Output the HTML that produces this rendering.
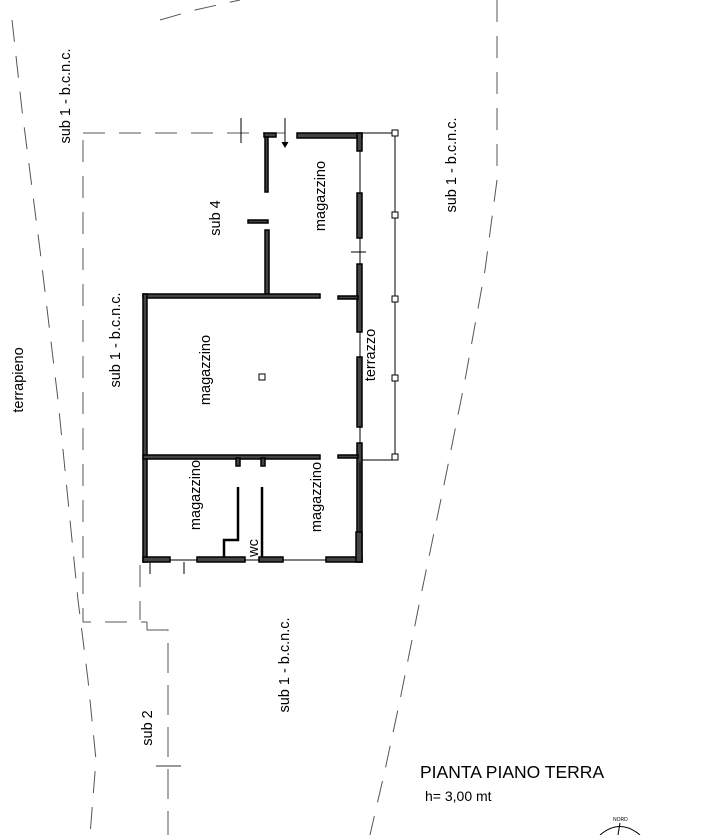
<!DOCTYPE html>
<html><head><style>
body{margin:0;background:#fff;}
svg text{font-family:"Liberation Sans",sans-serif;fill:#000;}
</style></head><body>
<svg width="727" height="835" viewBox="0 0 727 835" xmlns="http://www.w3.org/2000/svg">
<g fill="none" stroke="#555" stroke-width="1" stroke-dasharray="22,14">
<polyline points="12,20 22,110 40,250 58,400 70,520 78,600 88,680 96,760 90,835"/>
<polyline points="160,20 195,10 240,0"/>
<polyline points="497,0 497,180 485,270 465,380 445,480 420,600 400,700 385,770 370,835"/>
<polyline points="83,140 83,622 147,622"/>
<line x1="83" y1="133" x2="395" y2="133"/>
<polyline points="147,622 147,630 168,630 168,835" stroke-dasharray="30,12"/>
<line x1="140" y1="565" x2="140" y2="620"/>
</g>
<line x1="156" y1="766" x2="181" y2="766" stroke="#333"/>
<g stroke="#000" stroke-width="1">
<line x1="241" y1="118" x2="241" y2="143"/>
<line x1="285" y1="118" x2="285" y2="146"/><path d="M282,142 L285,147 L288,142" fill="#000"/>
</g>
<g fill="#444" stroke="#000" stroke-width="1.5">
<rect x="264" y="133" width="12" height="4"/>
<rect x="297" y="133" width="65" height="5"/>
<rect x="357" y="133" width="5" height="18"/>
<rect x="357" y="193" width="5" height="45"/>
<rect x="357" y="264" width="5" height="68"/>
<rect x="357" y="357" width="5" height="70"/>
<rect x="357" y="443" width="5" height="119"/>
<rect x="265" y="137" width="3" height="55"/>
<rect x="265" y="230" width="4" height="66"/>
<rect x="248" y="220" width="20" height="3"/>
<rect x="143" y="294" width="177" height="4"/>
<rect x="338" y="296" width="20" height="3"/>
<rect x="143" y="294" width="4" height="268"/>
<rect x="143" y="455" width="177" height="4"/>
<rect x="338" y="455" width="20" height="3"/>
<rect x="143" y="557" width="27" height="5"/>
<rect x="197" y="557" width="48" height="5"/>
<rect x="259" y="557" width="24" height="5"/>
<rect x="326" y="557" width="36" height="5"/>
<rect x="356" y="532" width="6" height="30"/>
<rect x="236" y="458" width="4" height="8"/>
<rect x="261" y="458" width="4" height="8"/>
<polyline points="238,487 238,540 224,540 224,557" fill="none" stroke-width="2.5"/>
<line x1="262" y1="487" x2="262" y2="557" stroke-width="2.5"/>
</g>
<g stroke="#000" stroke-width="1" fill="none">
<line x1="362" y1="133" x2="395" y2="133"/>
<line x1="362" y1="460" x2="395" y2="460"/>
<line x1="395" y1="133" x2="395" y2="460"/>
<line x1="360" y1="151" x2="360" y2="193"/>
<line x1="360" y1="238" x2="360" y2="264"/>
<line x1="360" y1="332" x2="360" y2="357"/>
<line x1="360" y1="427" x2="360" y2="443"/>
<line x1="360" y1="462" x2="360" y2="532"/>
<line x1="170" y1="560" x2="197" y2="560"/>
<line x1="245" y1="560" x2="259" y2="560"/>
<line x1="283" y1="560" x2="326" y2="560"/>
<line x1="351" y1="252" x2="366" y2="252"/>
<line x1="150" y1="562" x2="150" y2="574"/>
<line x1="184" y1="562" x2="184" y2="574"/>
<rect x="392" y="130" width="6" height="6" fill="#fff"/>
<rect x="392" y="212" width="6" height="6" fill="#fff"/>
<rect x="392" y="296" width="6" height="6" fill="#fff"/>
<rect x="392" y="375" width="6" height="6" fill="#fff"/>
<rect x="392" y="454" width="6" height="6" fill="#fff"/>
<rect x="259" y="374" width="6" height="6" fill="#fff"/>
</g>
<g font-size="14.5">
<text transform="translate(70,96) rotate(-90)" text-anchor="middle">sub 1 - b.c.n.c.</text>
<text transform="translate(456,165) rotate(-90)" text-anchor="middle">sub 1 - b.c.n.c.</text>
<text transform="translate(120,340) rotate(-90)" text-anchor="middle">sub 1 - b.c.n.c.</text>
<text transform="translate(289,665) rotate(-90)" text-anchor="middle">sub 1 - b.c.n.c.</text>
<text transform="translate(23,380) rotate(-90)" text-anchor="middle">terrapieno</text>
<text transform="translate(152,728) rotate(-90)" text-anchor="middle">sub 2</text>
<text transform="translate(220,218) rotate(-90)" text-anchor="middle">sub 4</text>
<text transform="translate(325,196) rotate(-90)" text-anchor="middle">magazzino</text>
<text transform="translate(210,370) rotate(-90)" text-anchor="middle">magazzino</text>
<text transform="translate(200,495) rotate(-90)" text-anchor="middle">magazzino</text>
<text transform="translate(321,497) rotate(-90)" text-anchor="middle">magazzino</text>
<text transform="translate(375,355) rotate(-90)" text-anchor="middle">terrazzo</text>
<text transform="translate(258,548) rotate(-90)" text-anchor="middle">wc</text>
</g>
<text x="420" y="778" font-size="17.5">PIANTA PIANO TERRA</text>
<text x="425" y="801" font-size="14">h= 3,00 mt</text>
<text x="613" y="821" font-size="5">NORD</text>
<path d="M600,835 Q620,818 640,835" fill="none" stroke="#000"/>
<line x1="620" y1="823" x2="618" y2="835" stroke="#000"/>
</svg>
</body></html>
